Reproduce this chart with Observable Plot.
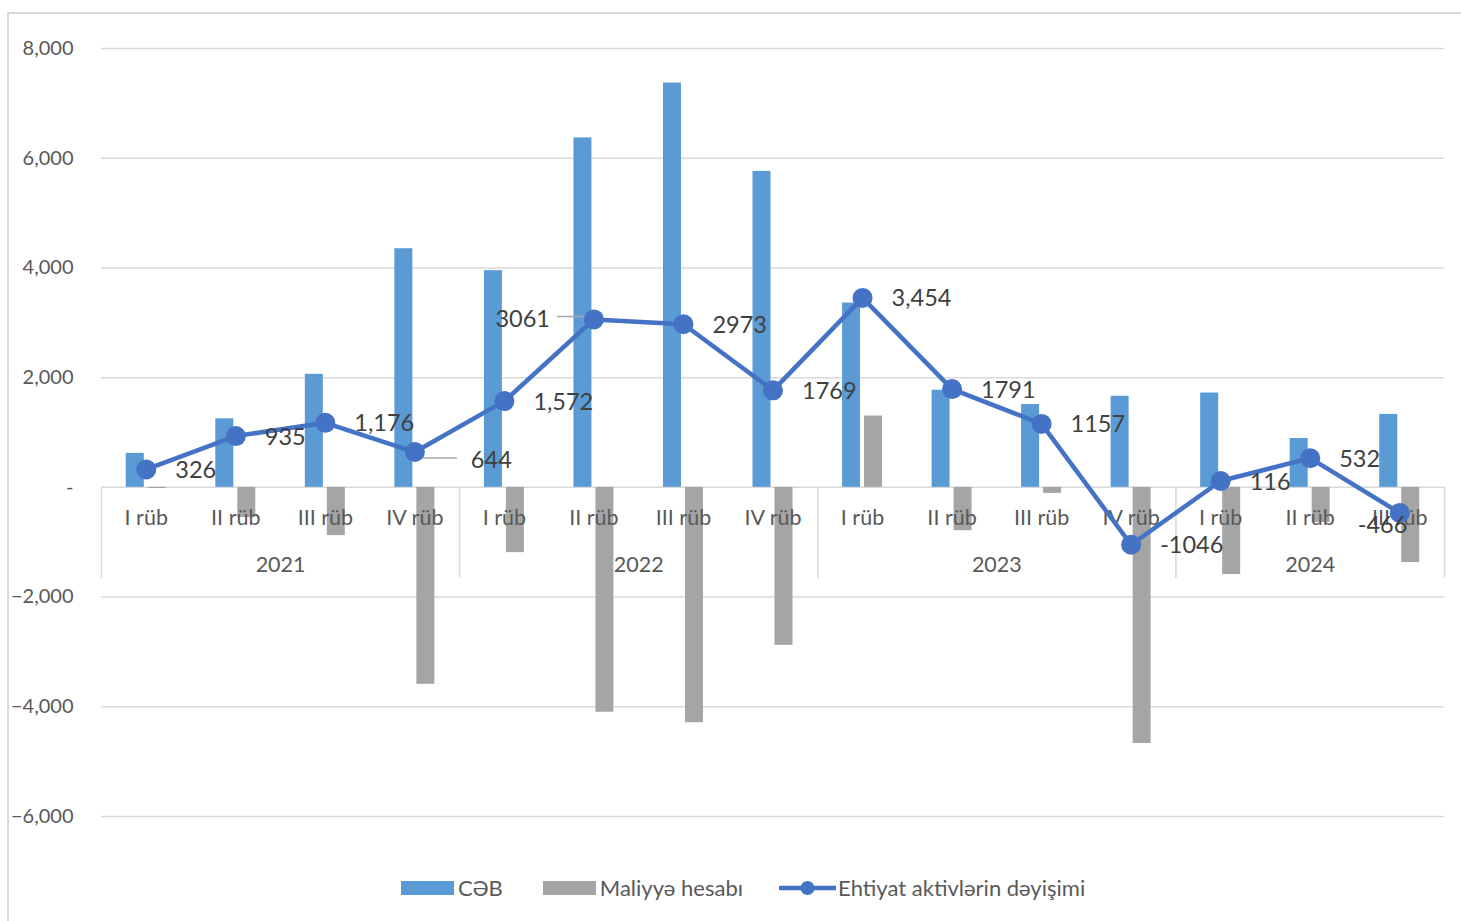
<!DOCTYPE html>
<html>
<head>
<meta charset="utf-8">
<script src="https://cdn.jsdelivr.net/npm/d3@7"></script>
<script src="https://cdn.jsdelivr.net/npm/@observablehq/plot@0.6"></script>
<style>
  html, body { margin: 0; padding: 0; background: #fff; }
  body { width: 1461px; height: 921px; position: relative; overflow: hidden; font-family: Lato, "Open Sans", sans-serif; }
  #frame { position: absolute; left: 7px; top: 12px; width: 1460px; height: 920px; border-left: 2px solid #d9d9d9; border-top: 2px solid #d9d9d9; box-sizing: border-box; }
  #chart { position: absolute; left: 0; top: 0; }
  #legend { position: absolute; top: 874px; left: 401px; display: flex; align-items: center; font-size: 22px; color: #595959; white-space: nowrap; }
  .sw { display: inline-block; width: 53px; height: 14px; margin-right: 4px; }
  .item { display: flex; align-items: center; }
</style>
</head>
<body>
<div id="frame"></div>
<div id="chart"></div>
<div id="legend">
  <div class="item" style="margin-right:40px"><span class="sw" style="background:#5B9BD5"></span><span>CƏB</span></div>
  <div class="item" style="margin-right:36px"><span class="sw" style="background:#A5A5A5"></span><span>Maliyyə hesabı</span></div>
  <div class="item"><svg width="57" height="20" style="margin-right:2px"><line x1="0" y1="10" x2="57" y2="10" stroke="#4472C4" stroke-width="4.5"/><circle cx="28.5" cy="10" r="7" fill="#4472C4"/></svg><span>Ehtiyat aktivlərin dəyişimi</span></div>
</div>
<script>
const quarters = ["I rüb","II rüb","III rüb","IV rüb","I rüb","II rüb","III rüb","IV rüb","I rüb","II rüb","III rüb","IV rüb","I rüb","II rüb","III rüb"];
const quarterYears = ["2021","2021","2021","2021","2022","2022","2022","2022","2023","2023","2023","2023","2024","2024","2024"];
const years = ["2021","2022","2023","2024"];
const ceb = [620,1250,2060,4350,3950,6370,7370,5760,3360,1770,1510,1660,1720,890,1330];
const maliyye = [-20,-550,-880,-3590,-1190,-4100,-4290,-2880,1300,-790,-110,-4670,-1590,-640,-1370];
const ehtiyat = [326,935,1176,644,1572,3061,2973,1769,3454,1791,1157,-1046,116,532,-466];
const ehtiyatLabels = ["326","935","1,176","644","1,572","3061","2973","1769","3,454","1791","1157","-1046","116","532","-466"];
const yTicks = [-6000,-4000,-2000,0,2000,4000,6000,8000];

const rows = quarters.map((q, i) => ({i, q, year: quarterYears[i], ceb: ceb[i], mal: maliyye[i], eh: ehtiyat[i], label: ehtiyatLabels[i]}));
const yearRows = years.map(y => {
  const idx = rows.filter(r => r.year === y).map(r => r.i);
  return {year: y, mid: d3.mean(idx), start: d3.min(idx) - 0.5};
});
const separators = [...yearRows.map(d => d.start), rows.length - 0.5];

// label placement (style): default to the right of the point
const special = {3: {dx: 56, dy: 8, anchor: "start"}, 5: {dx: -44, dy: 0, anchor: "end"}, 14: {dx: -42, dy: 13, anchor: "start"}};
const normalRows = rows.filter(r => !special[r.i]);

const W = 1461, H = 860;
const mL = 101, mR = 17, mT = 48, mB = 44;
const bw = (W - mL - mR) / rows.length;
const half = bw / 2;
const LBL = 23.5;

const labelMarks = Object.entries(special).map(([k, s]) =>
  Plot.text(rows.filter(r => r.i === +k), {x: "i", y: "eh", text: "label", dx: s.dx, dy: s.dy, textAnchor: s.anchor, fontSize: LBL, fill: "#404040"})
);

const chart = Plot.plot({
  width: W, height: H,
  marginLeft: mL, marginRight: mR, marginTop: mT, marginBottom: mB,
  style: {fontFamily: "Lato, 'Open Sans', sans-serif", background: "transparent"},
  x: {type: "linear", domain: [-0.5, rows.length - 0.5], axis: null},
  y: {domain: [-6000, 8000], ticks: yTicks, tickSize: 0, tickPadding: 28,
      tickFormat: d => d === 0 ? "-" : d3.format(",")(d), label: null},
  marks: [
    Plot.gridY(yTicks, {stroke: "#d9d9d9", strokeOpacity: 1, strokeWidth: 1.5}),
    Plot.axisY(yTicks, {tickSize: 0, tickPadding: 28, fontSize: 20, fill: "#595959",
      tickFormat: d => d === 0 ? "-" : d3.format(",")(d), label: null}),
    Plot.rectY(rows, {x1: d => d.i - 0.5, x2: d => d.i + 0.5, y: "ceb", fill: "#5B9BD5", insetLeft: half - 20, insetRight: half + 2}),
    Plot.rectY(rows, {x1: d => d.i - 0.5, x2: d => d.i + 0.5, y: "mal", fill: "#A5A5A5", insetLeft: half + 2, insetRight: half - 20}),
    Plot.ruleX(separators, {y1: 0, y2: -6000, stroke: "#d9d9d9", strokeWidth: 1.5, insetBottom: 238}),
    Plot.text(rows, {x: "i", y: 0, text: "q", dy: 31, fontSize: 21.5, fill: "#595959"}),
    Plot.text(yearRows, {x: "mid", y: 0, text: "year", dy: 78, fontSize: 21.5, fill: "#595959"}),
    // leader lines for displaced labels
    Plot.ruleY(rows.filter(r => r.i === 3), {y: "eh", x1: d => d.i, x2: d => d.i + 1, insetLeft: 8, insetRight: 47, dy: 6, stroke: "#a6a6a6", strokeWidth: 1.5}),
    Plot.ruleY(rows.filter(r => r.i === 5), {y: "eh", x1: d => d.i - 1, x2: d => d.i, insetLeft: 53, insetRight: 4, dy: -3, stroke: "#a6a6a6", strokeWidth: 1.5}),
    Plot.line(rows, {x: "i", y: "eh", stroke: "#4472C4", strokeWidth: 4.5, strokeLinejoin: "round"}),
    Plot.dot(rows, {x: "i", y: "eh", r: 10, fill: "#4472C4"}),
    Plot.text(normalRows, {x: "i", y: "eh", text: "label", dx: 29, dy: 1, textAnchor: "start", fontSize: LBL, fill: "#404040"}),
    ...labelMarks
  ]
});
document.getElementById("chart").appendChild(chart);
</script>
</body>
</html>
